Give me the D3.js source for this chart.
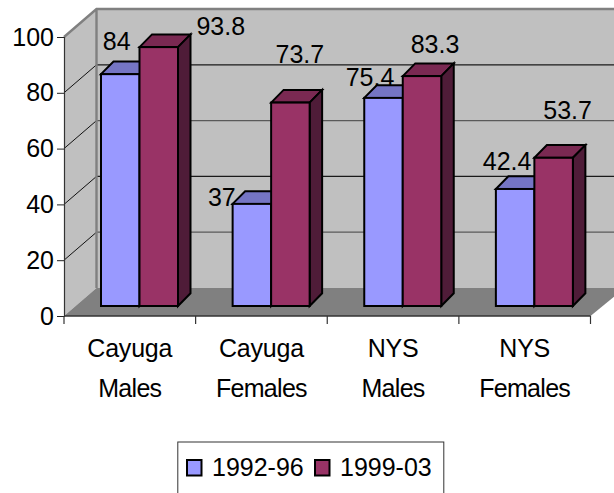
<!DOCTYPE html>
<html><head><meta charset="utf-8">
<script src="https://cdn.jsdelivr.net/npm/d3@7"></script>
<style>html,body{margin:0;padding:0;background:#fff}svg{display:block}text{font-family:"Liberation Sans",Arial,sans-serif;font-size:25px;fill:#000}</style>
</head><body><svg id="c" width="614" height="493"></svg>
<script>
const categories = ["Cayuga Males","Cayuga Females","NYS Males","NYS Females"];
const seriesNames = ["1992-96","1999-03"];
const values1992 = [84,37,75.4,42.4];
const values1999 = [93.8,73.7,83.3,53.7];
const yTicks = [0,20,40,60,80,100];

const colors = {front:["#9999ff","#993366"],top:["#7575c4","#7a2952"],side:["#4f4f80","#4f1c38"]};
const labelNudge = [[[-3.5,-24],[62,-12]],[[-30,2],[9.5,-39.5]],[[-13.5,-12],[13,-23]],[[-8,-19],[14,-39]]];

const svg = d3.select("#c");
const x = d3.scaleBand().domain(categories).range([64,590.5]);
const sub = d3.scaleBand().domain(seriesNames).range([37,114]);
const yAxisScale = d3.scaleLinear().domain([0,100]).range([316,37]);
const yWall = d3.scaleLinear().domain([0,100]).range([288,9]);
const yBar = d3.scaleLinear().domain([0,100]).range([306,30]);
const wallX = 96.5, barDX = 12.5, barDY = 12.7;
const W = 614, floorRight = x.range()[1];

// walls and floor
svg.append("rect").attr("x",wallX).attr("y",yWall(100)).attr("width",W-wallX).attr("height",yWall(0)-yWall(100)).attr("fill","#c0c0c0");
svg.append("polygon").attr("points",[[x.range()[0],yAxisScale(100)],[wallX,yWall(100)],[wallX,yWall(0)],[x.range()[0],yAxisScale(0)]].join(" ")).attr("fill","#c0c0c0");
svg.append("polygon").attr("points",[[x.range()[0],yAxisScale(0)],[wallX,yWall(0)],[W+10,yWall(0)],[floorRight+34,yWall(0)],[floorRight,yAxisScale(0)]].join(" ")).attr("fill","#808080");

// gridlines
yTicks.filter(t=>t>0&&t<100).forEach((t,i)=>{
  const stroke = i%2 ? "#1a1a1a" : "#5a5a5a";
  svg.append("line").attr("x1",wallX).attr("x2",W).attr("y1",yWall(t)).attr("y2",yWall(t)).attr("stroke",stroke).attr("stroke-width",1.2);
  svg.append("line").attr("x1",x.range()[0]).attr("x2",wallX).attr("y1",yAxisScale(t)).attr("y2",yWall(t)).attr("stroke","#111").attr("stroke-width",1);
});
// wall edges
svg.append("path").attr("d",`M${x.range()[0]},${yAxisScale(100)}L${wallX},${yWall(100)}H${W}M${wallX},${yWall(100)}V${yWall(0)}`).attr("fill","none").attr("stroke","#808080").attr("stroke-width",2.4);

// axes
const ax = d3.axisLeft(yAxisScale).tickValues(yTicks).tickSize(7).tickPadding(3);
const gy = svg.append("g").attr("transform",`translate(${x.range()[0]},0)`).call(ax);
gy.select(".domain").attr("stroke","#333").attr("stroke-width",1.2);
gy.selectAll(".tick line").attr("stroke","#222");
gy.selectAll("text").style("font-size","25px").attr("fill","#000").attr("dy","0.32em");

const baseY = yAxisScale(0);
svg.append("line").attr("x1",x.range()[0]).attr("x2",floorRight).attr("y1",baseY).attr("y2",baseY).attr("stroke","#333").attr("stroke-width",1.4);
svg.selectAll(".xt").data(d3.range(categories.length+1)).join("line").attr("class","xt")
  .attr("x1",i=>x.range()[0]+i*x.bandwidth()).attr("x2",i=>x.range()[0]+i*x.bandwidth())
  .attr("y1",baseY).attr("y2",baseY+8).attr("stroke","#333").attr("stroke-width",1.2);

// bars
const rows = categories.flatMap((c,ci)=>seriesNames.map((s,si)=>({c,ci,s,si,v:(si?values1999:values1992)[ci]})));
const edge = {stroke:"#000","stroke-width":2,"stroke-linejoin":"miter"};
const setEdge = sel => { for (const k in edge) sel.attr(k,edge[k]); return sel; };
const g = svg.selectAll(".bar").data(rows).join("g").attr("class","bar");
g.each(function(d){
  const x0 = x(d.c)+sub(d.s), x1 = x0+sub.bandwidth(), yt = yBar(d.v), yb = yBar(0);
  const s = d3.select(this);
  setEdge(s.append("polygon").attr("points",[[x0,yt],[x0+barDX,yt-barDY],[x1+barDX,yt-barDY],[x1,yt]].join(" ")).attr("fill",colors.top[d.si]));
  setEdge(s.append("polygon").attr("points",[[x1,yt],[x1+barDX,yt-barDY],[x1+barDX,yb-barDY],[x1,yb]].join(" ")).attr("fill",colors.side[d.si]));
  setEdge(s.append("rect").attr("x",x0).attr("y",yt).attr("width",x1-x0).attr("height",yb-yt).attr("fill",colors.front[d.si]));
});

// data labels
svg.selectAll(".lab").data(rows).join("text").attr("class","lab").attr("text-anchor","middle")
  .attr("x",d=>x(d.c)+sub(d.s)+sub.bandwidth()/2+labelNudge[d.ci][d.si][0])
  .attr("y",d=>yBar(d.v)+labelNudge[d.ci][d.si][1])
  .text(d=>d.v);

// category labels
svg.selectAll(".cat").data(categories).join("text").attr("class","cat").attr("text-anchor","middle")
  .attr("x",d=>x(d)+x.bandwidth()/2).attr("y",357)
  .each(function(d){
    const p=d.split(" ");
    d3.select(this).selectAll("tspan").data(p).join("tspan")
      .attr("x",x(d)+x.bandwidth()/2).attr("dy",(_,i)=>i?39.5:0)
      .attr("letter-spacing",(_,i)=>i?-0.7:-0.2).text(t=>t);
  });

// legend
const lg = svg.append("g");
lg.append("rect").attr("x",177.8).attr("y",442).attr("width",266).attr("height",60).attr("fill","#fff").attr("stroke","#333").attr("stroke-width",1);
seriesNames.forEach((s,i)=>{
  const lx = 187+i*128;
  lg.append("rect").attr("x",lx).attr("y",460).attr("width",14.5).attr("height",15.5).attr("fill",colors.front[i]).attr("stroke","#000").attr("stroke-width",2);
  lg.append("text").attr("x",lx+25).attr("y",476).text(s);
});
</script></body></html>
